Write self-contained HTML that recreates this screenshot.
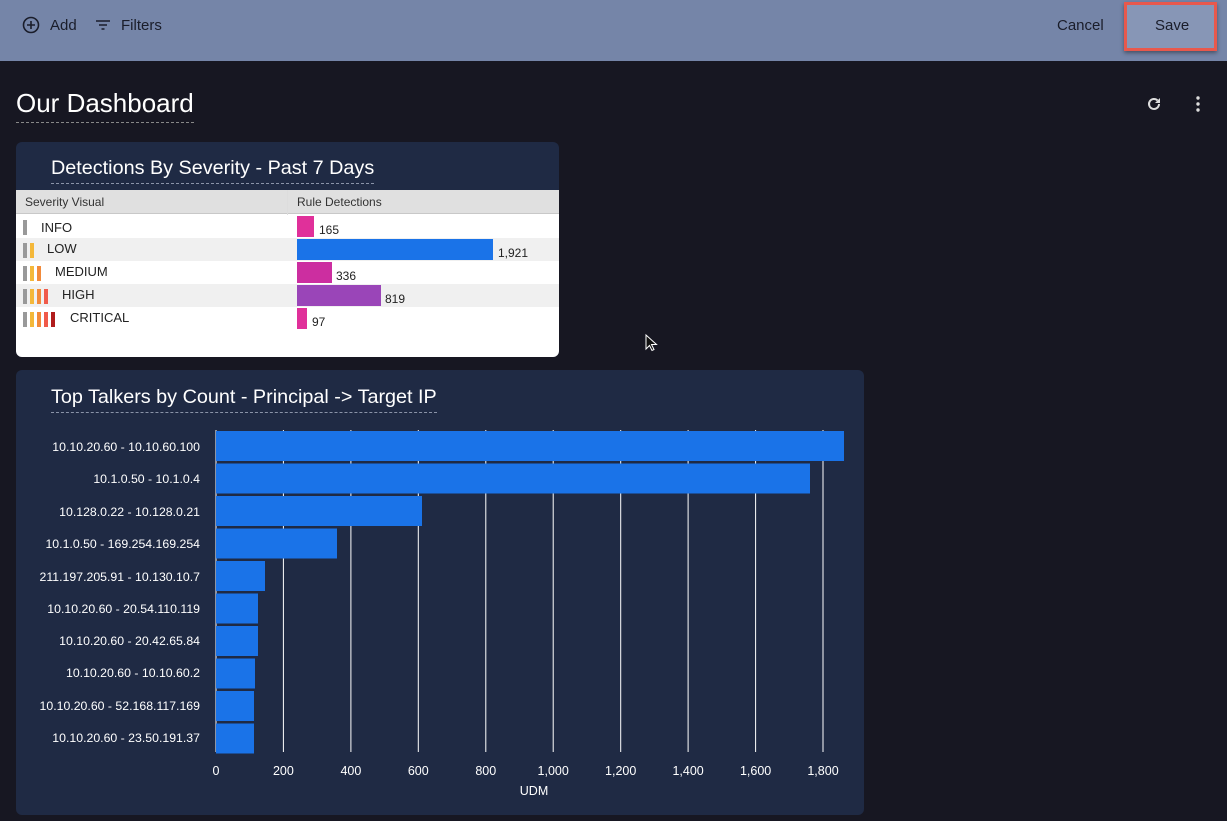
<!DOCTYPE html>
<html><head><style>
*{margin:0;padding:0;box-sizing:border-box}
body{width:1227px;height:821px;background:#171722;font-family:"Liberation Sans",sans-serif;position:relative;overflow:hidden}
.top{position:absolute;left:0;top:0;width:1227px;height:61px;background:#7585a8}
.t{position:absolute;color:#1a1d2a;font-size:15px}
.card{position:absolute;background:#1f2a44;border-radius:6px}
.ct{position:absolute;color:#fff;font-size:19.8px;border-bottom:1px dashed #8a93a8;padding-bottom:3px}
.tbl{position:absolute;left:16px;top:190px;width:543px;height:167px;background:#fff;border-radius:0 0 6px 6px}
.row{position:absolute;left:0;width:543px;height:23px;font-size:13px;color:#222}
.sb{position:absolute;top:5px;width:4px;height:15px}
.bar{position:absolute;top:1px;height:21px}
.v{position:absolute;top:8px;font-size:12px}
</style></head><body>
<div class="top"></div>
<svg style="position:absolute;left:22px;top:16px" width="18" height="18"><circle cx="9" cy="9" r="7.5" fill="none" stroke="#1a1d2a" stroke-width="1.6"/><path d="M9 5v8M5 9h8" stroke="#1a1d2a" stroke-width="1.6"/></svg>
<div class="t" style="left:50px;top:17px">Add</div>
<svg style="position:absolute;left:95px;top:18px" width="16" height="14"><path d="M1 3h14M4 7h8M6.5 11h3" stroke="#1a1d2a" stroke-width="1.6"/></svg>
<div class="t" style="left:121px;top:17px">Filters</div>
<div class="t" style="left:1057px;top:17px">Cancel</div>
<div style="position:absolute;left:1124px;top:2px;width:93px;height:49px;background:#8796b6;border:3px solid #e8584c;box-shadow:0 2px 4px rgba(0,0,0,.4)"></div>
<div class="t" style="left:1155px;top:17px">Save</div>
<div style="position:absolute;left:16px;top:88px;color:#fff;font-size:26px;border-bottom:1px dashed #888;padding-bottom:3px">Our Dashboard</div>
<svg style="position:absolute;left:1145px;top:95px" width="18" height="18"><path d="M14 9a5 5 0 1 1-1.5-3.6" fill="none" stroke="#ddd" stroke-width="2"/><path d="M15 3v5h-5z" fill="#ddd"/></svg>
<svg style="position:absolute;left:1194px;top:95px" width="8" height="18"><circle cx="4" cy="3" r="1.7" fill="#ddd"/><circle cx="4" cy="9" r="1.7" fill="#ddd"/><circle cx="4" cy="15" r="1.7" fill="#ddd"/></svg>

<div class="card" style="left:16px;top:142px;width:543px;height:215px"></div>
<div class="ct" style="left:51px;top:157px">Detections By Severity - Past 7 Days</div>
<div class="tbl">
<div style="position:absolute;left:0;top:0;width:543px;height:24px;background:#e0e0e0;border-bottom:1px solid #c8c8c8;font-size:12px;color:#333"><span style="position:absolute;left:9px;top:5px">Severity Visual</span><span style="position:absolute;left:281px;top:5px">Rule Detections</span></div>
<div style="position:absolute;left:271px;top:0;width:1px;height:140px;background:#ddd"></div>
<div class="row" style="top:25px;background:#fff"><div class="sb" style="left:7px;background:#999"></div><span style="position:absolute;left:25px;top:5px">INFO</span><div class="bar" style="left:281px;width:17px;background:#e0309a"></div><span class="v" style="left:303px">165</span></div>
<div class="row" style="top:48px;background:#f0f0f0"><div class="sb" style="left:7px;background:#999"></div><div class="sb" style="left:14px;background:#f4b83a"></div><span style="position:absolute;left:31px;top:3px">LOW</span><div class="bar" style="left:281px;width:196px;background:#1a73e8"></div><span class="v" style="left:482px">1,921</span></div>
<div class="row" style="top:71px;background:#fff"><div class="sb" style="left:7px;background:#999"></div><div class="sb" style="left:14px;background:#f4b83a"></div><div class="sb" style="left:21px;background:#f28a3a"></div><span style="position:absolute;left:39px;top:3px">MEDIUM</span><div class="bar" style="left:281px;width:35px;background:#cc2ea0"></div><span class="v" style="left:320px">336</span></div>
<div class="row" style="top:94px;background:#f0f0f0"><div class="sb" style="left:7px;background:#999"></div><div class="sb" style="left:14px;background:#f4b83a"></div><div class="sb" style="left:21px;background:#f28a3a"></div><div class="sb" style="left:28px;background:#f05a4a"></div><span style="position:absolute;left:46px;top:3px">HIGH</span><div class="bar" style="left:281px;width:84px;background:#9a45b8"></div><span class="v" style="left:369px">819</span></div>
<div class="row" style="top:117px;background:#fff"><div class="sb" style="left:7px;background:#999"></div><div class="sb" style="left:14px;background:#f4b83a"></div><div class="sb" style="left:21px;background:#f28a3a"></div><div class="sb" style="left:28px;background:#f05a4a"></div><div class="sb" style="left:35px;background:#b01c1c"></div><span style="position:absolute;left:54px;top:3px">CRITICAL</span><div class="bar" style="left:281px;width:10px;background:#e0309a"></div><span class="v" style="left:296px">97</span></div>
</div>

<div class="card" style="left:16px;top:370px;width:848px;height:445px"></div>
<div class="ct" style="left:51px;top:386px">Top Talkers by Count - Principal -&gt; Target IP</div>
<svg style="position:absolute;left:0;top:0" width="1227" height="821" font-family="Liberation Sans, sans-serif">
<g stroke="#fff" stroke-width="1">
<line x1="216" y1="430" x2="216" y2="752"/><line x1="283.4" y1="430" x2="283.4" y2="752"/><line x1="350.9" y1="430" x2="350.9" y2="752"/><line x1="418.3" y1="430" x2="418.3" y2="752"/><line x1="485.8" y1="430" x2="485.8" y2="752"/><line x1="553.2" y1="430" x2="553.2" y2="752"/><line x1="620.7" y1="430" x2="620.7" y2="752"/><line x1="688.1" y1="430" x2="688.1" y2="752"/><line x1="755.6" y1="430" x2="755.6" y2="752"/><line x1="823" y1="430" x2="823" y2="752"/>
</g>
<g fill="#1a73e8">
<rect x="216" y="431" width="628" height="30"/><rect x="216" y="463.5" width="594" height="30"/><rect x="216" y="496" width="206" height="30"/><rect x="216" y="528.5" width="121" height="30"/><rect x="216" y="561" width="49" height="30"/><rect x="216" y="593.5" width="42" height="30"/><rect x="216" y="626" width="42" height="30"/><rect x="216" y="658.5" width="39" height="30"/><rect x="216" y="691" width="38" height="30"/><rect x="216" y="723.5" width="38" height="30"/>
</g>
<g fill="#fff" font-size="12.3" text-anchor="end">
<text x="200" y="451">10.10.20.60 - 10.10.60.100</text><text x="200" y="483">10.1.0.50 - 10.1.0.4</text><text x="200" y="516">10.128.0.22 - 10.128.0.21</text><text x="200" y="548">10.1.0.50 - 169.254.169.254</text><text x="200" y="581">211.197.205.91 - 10.130.10.7</text><text x="200" y="613">10.10.20.60 - 20.54.110.119</text><text x="200" y="645">10.10.20.60 - 20.42.65.84</text><text x="200" y="677">10.10.20.60 - 10.10.60.2</text><text x="200" y="710">10.10.20.60 - 52.168.117.169</text><text x="200" y="742">10.10.20.60 - 23.50.191.37</text>
</g>
<g fill="#fff" font-size="12.5" text-anchor="middle">
<text x="216" y="775">0</text><text x="283.4" y="775">200</text><text x="350.9" y="775">400</text><text x="418.3" y="775">600</text><text x="485.8" y="775">800</text><text x="553.2" y="775">1,000</text><text x="620.7" y="775">1,200</text><text x="688.1" y="775">1,400</text><text x="755.6" y="775">1,600</text><text x="823" y="775">1,800</text>
<text x="534" y="795">UDM</text>
</g>
<path d="M646 335v14l3.5-3.5 2.5 5 2-1-2.5-5h5z" fill="#111" stroke="#fff" stroke-width="1"/>
</svg>
</body></html>
